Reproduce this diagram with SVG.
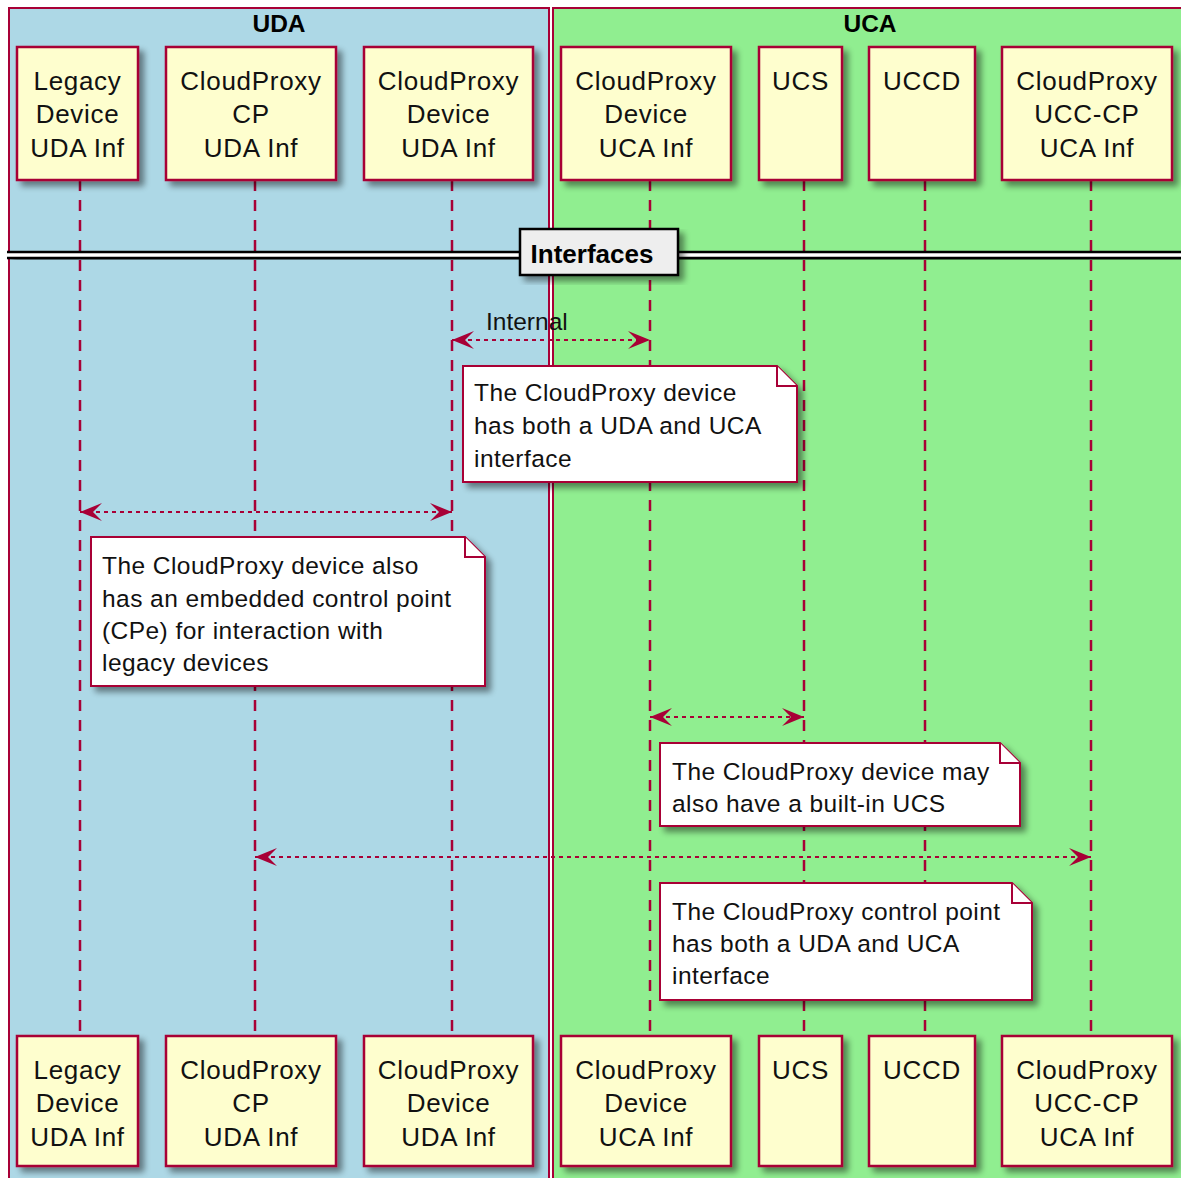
<svg xmlns="http://www.w3.org/2000/svg" width="1181" height="1178" viewBox="0 0 1181 1178">
  <defs>
    <filter id="shadow" x="-10%" y="-10%" width="130%" height="130%">
      <feGaussianBlur in="SourceAlpha" stdDeviation="3"/>
      <feOffset dx="5" dy="5" result="blur"/>
      <feComponentTransfer><feFuncA type="linear" slope="0.45"/></feComponentTransfer>
      <feMerge><feMergeNode/><feMergeNode in="SourceGraphic"/></feMerge>
    </filter>
    <marker id="head" viewBox="0 0 22 18" refX="22" refY="9" markerWidth="22" markerHeight="18" markerUnits="userSpaceOnUse" orient="auto-start-reverse">
      <polygon points="22,9 0,0 9,9 0,18" fill="#A80036"/>
    </marker>
  </defs>
  <style>
    .grp { stroke: #A80036; stroke-width: 2; }
    .gtitle { font-family: "Liberation Sans", Arial, sans-serif; font-weight: bold; font-size: 24.5px; fill: #000; text-anchor: middle; }
    .part rect { fill: #FEFECE; stroke: #A80036; stroke-width: 2.5; }
    .part text { font-family: "Liberation Sans", Arial, sans-serif; font-size: 26px; letter-spacing: 0.7px; fill: #111; text-anchor: middle; }
    .life { stroke: #A80036; stroke-width: 2.5; stroke-dasharray: 11 9; fill: none; }
    .msg { stroke: #A80036; stroke-width: 2; stroke-dasharray: 4 4; fill: none; marker-start: url(#head); marker-end: url(#head); }
    .note path { fill: #FFFFFF; stroke: #A80036; stroke-width: 2; }
    .note text, .lbl { font-family: "Liberation Sans", Arial, sans-serif; font-size: 24.5px; fill: #111; }
    .note text { letter-spacing: 0.45px; }
  </style>

  <rect width="1181" height="1178" fill="#FFFFFF"/>

  <!-- boxes grouping the participants -->
  <g id="group-uda">
    <rect class="grp" x="9" y="8" width="540" height="1190" fill="#ADD8E6"/>
    <text class="gtitle" x="279" y="32">UDA</text>
  </g>
  <g id="group-uca">
    <rect class="grp" x="553" y="8" width="640" height="1190" fill="#90EE90"/>
    <text class="gtitle" x="870" y="32">UCA</text>
  </g>

  <!-- lifelines -->
  <g id="lifelines">
    <line class="life" x1="80" y1="180" x2="80" y2="1036"/>
    <line class="life" x1="255" y1="180" x2="255" y2="1036"/>
    <line class="life" x1="452" y1="180" x2="452" y2="1036"/>
    <line class="life" x1="650" y1="180" x2="650" y2="1036"/>
    <line class="life" x1="804" y1="180" x2="804" y2="1036"/>
    <line class="life" x1="925" y1="180" x2="925" y2="1036"/>
    <line class="life" x1="1091" y1="180" x2="1091" y2="1036"/>
  </g>

  <!-- section divider -->
  <g id="divider-interfaces">
    <g filter="url(#shadow)">
      <rect x="7" y="251" width="1180" height="7" fill="#FFFFFF"/>
      <line x1="7" y1="252" x2="1187" y2="252" stroke="#000" stroke-width="2.5"/>
      <line x1="7" y1="258" x2="1187" y2="258" stroke="#000" stroke-width="2.5"/>
    </g>
    <rect x="520" y="229" width="158" height="46" fill="#EEEEEE" stroke="#000" stroke-width="2.5" filter="url(#shadow)"/>
    <text x="592" y="263" font-family="Liberation Sans, Arial, sans-serif" font-weight="bold" font-size="26" text-anchor="middle">Interfaces</text>
  </g>

  <!-- messages -->
  <g id="connectors">
    <line class="msg" x1="452" y1="340" x2="650" y2="340"/>
    <text class="lbl" x="486" y="330">Internal</text>
    <line class="msg" x1="80" y1="512" x2="452" y2="512"/>
    <line class="msg" x1="650" y1="717" x2="804" y2="717"/>
    <line class="msg" x1="255" y1="857" x2="1091" y2="857"/>
  </g>

  <!-- notes -->
  <g id="note-device-interfaces" class="note">
    <path d="M463,366 L777,366 L797,386 L797,482 L463,482 Z" filter="url(#shadow)"/>
    <path d="M777,366 L777,386 L797,386" fill="none"/>
    <text x="474" y="401">The CloudProxy device</text>
    <text x="474" y="434">has both a UDA and UCA</text>
    <text x="474" y="467">interface</text>
  </g>
  <g id="note-embedded-cp" class="note">
    <path d="M91,537 L465,537 L485,557 L485,686 L91,686 Z" filter="url(#shadow)"/>
    <path d="M465,537 L465,557 L485,557" fill="none"/>
    <text x="102" y="574">The CloudProxy device also</text>
    <text x="102" y="607">has an embedded control point</text>
    <text x="102" y="639">(CPe) for interaction with</text>
    <text x="102" y="671">legacy devices</text>
  </g>
  <g id="note-builtin-ucs" class="note">
    <path d="M660,743 L1000,743 L1020,763 L1020,826 L660,826 Z" filter="url(#shadow)"/>
    <path d="M1000,743 L1000,763 L1020,763" fill="none"/>
    <text x="672" y="780">The CloudProxy device may</text>
    <text x="672" y="812">also have a built-in UCS</text>
  </g>
  <g id="note-cp-interfaces" class="note">
    <path d="M660,883 L1012,883 L1032,903 L1032,1000 L660,1000 Z" filter="url(#shadow)"/>
    <path d="M1012,883 L1012,903 L1032,903" fill="none"/>
    <text x="672" y="920">The CloudProxy control point</text>
    <text x="672" y="952">has both a UDA and UCA</text>
    <text x="672" y="984">interface</text>
  </g>

  <!-- participants, top row -->
  <g id="legacy-device-top" class="part">
    <rect x="17" y="47" width="121" height="133" filter="url(#shadow)"/>
    <text x="77.5" y="90">Legacy</text><text x="77.5" y="123">Device</text><text x="77.5" y="157">UDA Inf</text>
  </g>
  <g id="cloudproxy-cp-top" class="part">
    <rect x="166" y="47" width="170" height="133" filter="url(#shadow)"/>
    <text x="251" y="90">CloudProxy</text><text x="251" y="123">CP</text><text x="251" y="157">UDA Inf</text>
  </g>
  <g id="cloudproxy-device-uda-top" class="part">
    <rect x="364" y="47" width="169" height="133" filter="url(#shadow)"/>
    <text x="448.5" y="90">CloudProxy</text><text x="448.5" y="123">Device</text><text x="448.5" y="157">UDA Inf</text>
  </g>
  <g id="cloudproxy-device-uca-top" class="part">
    <rect x="561" y="47" width="170" height="133" filter="url(#shadow)"/>
    <text x="646" y="90">CloudProxy</text><text x="646" y="123">Device</text><text x="646" y="157">UCA Inf</text>
  </g>
  <g id="ucs-top" class="part">
    <rect x="759" y="47" width="83" height="133" filter="url(#shadow)"/>
    <text x="800.5" y="90">UCS</text>
  </g>
  <g id="uccd-top" class="part">
    <rect x="869" y="47" width="106" height="133" filter="url(#shadow)"/>
    <text x="922" y="90">UCCD</text>
  </g>
  <g id="cloudproxy-ucc-cp-top" class="part">
    <rect x="1002" y="47" width="170" height="133" filter="url(#shadow)"/>
    <text x="1087" y="90">CloudProxy</text><text x="1087" y="123">UCC-CP</text><text x="1087" y="157">UCA Inf</text>
  </g>

  <!-- participants, bottom row -->
  <g id="legacy-device-bottom" class="part">
    <rect x="17" y="1036" width="121" height="130" filter="url(#shadow)"/>
    <text x="77.5" y="1079">Legacy</text><text x="77.5" y="1112">Device</text><text x="77.5" y="1146">UDA Inf</text>
  </g>
  <g id="cloudproxy-cp-bottom" class="part">
    <rect x="166" y="1036" width="170" height="130" filter="url(#shadow)"/>
    <text x="251" y="1079">CloudProxy</text><text x="251" y="1112">CP</text><text x="251" y="1146">UDA Inf</text>
  </g>
  <g id="cloudproxy-device-uda-bottom" class="part">
    <rect x="364" y="1036" width="169" height="130" filter="url(#shadow)"/>
    <text x="448.5" y="1079">CloudProxy</text><text x="448.5" y="1112">Device</text><text x="448.5" y="1146">UDA Inf</text>
  </g>
  <g id="cloudproxy-device-uca-bottom" class="part">
    <rect x="561" y="1036" width="170" height="130" filter="url(#shadow)"/>
    <text x="646" y="1079">CloudProxy</text><text x="646" y="1112">Device</text><text x="646" y="1146">UCA Inf</text>
  </g>
  <g id="ucs-bottom" class="part">
    <rect x="759" y="1036" width="83" height="130" filter="url(#shadow)"/>
    <text x="800.5" y="1079">UCS</text>
  </g>
  <g id="uccd-bottom" class="part">
    <rect x="869" y="1036" width="106" height="130" filter="url(#shadow)"/>
    <text x="922" y="1079">UCCD</text>
  </g>
  <g id="cloudproxy-ucc-cp-bottom" class="part">
    <rect x="1002" y="1036" width="170" height="130" filter="url(#shadow)"/>
    <text x="1087" y="1079">CloudProxy</text><text x="1087" y="1112">UCC-CP</text><text x="1087" y="1146">UCA Inf</text>
  </g>
</svg>
